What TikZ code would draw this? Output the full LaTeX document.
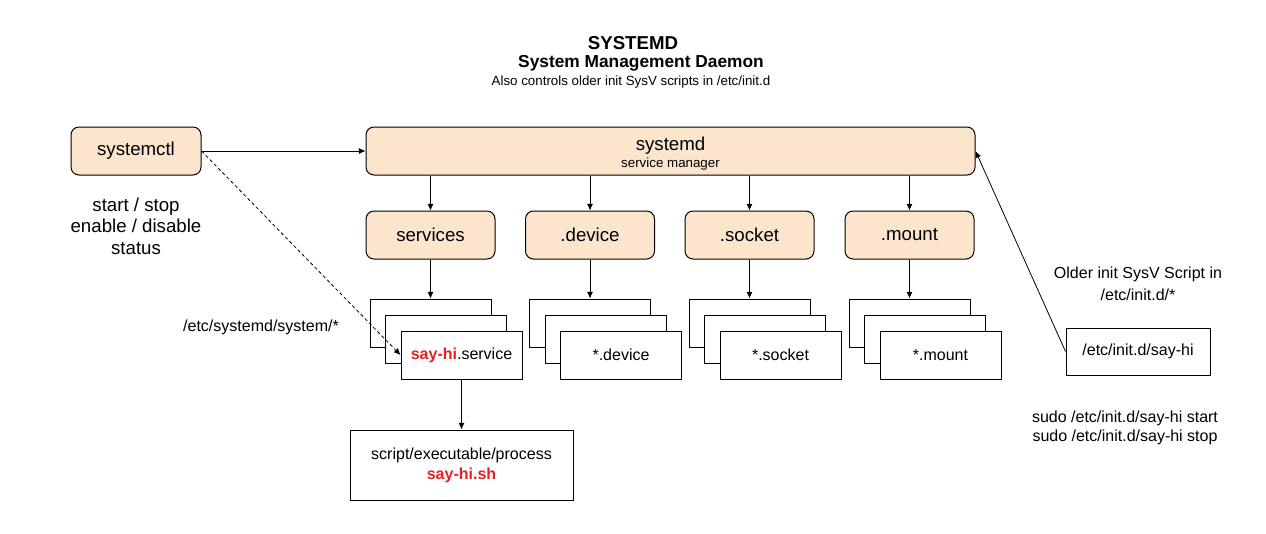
\documentclass[tikz,border=0pt]{standalone}
\usepackage{fontspec}
\setmainfont{Liberation Sans}
\usepackage{xcolor}
\usetikzlibrary{arrows.meta, positioning}

\definecolor{peach}{HTML}{FCE5CD}
\definecolor{hired}{HTML}{E52222}

\begin{document}
\begin{tikzpicture}[
  x=0.75pt, y=-0.75pt,
  every node/.style={font=\fontsize{12}{14}\selectfont, inner sep=0pt},
  unit/.style={rectangle, rounded corners=6pt, draw, line width=0.75pt,
    fill=peach, minimum height=36pt, font=\fontsize{14}{16}\selectfont},
  file/.style={rectangle, draw, line width=0.75pt, fill=white,
    minimum width=90.75pt, minimum height=36pt},
  plainbox/.style={rectangle, draw, line width=0.75pt, align=center},
  arr/.style={-{Latex[length=5pt, width=4.5pt]}, line width=0.6pt},
  darr/.style={arr, dash pattern=on 2.5pt off 2pt}
]
\useasboundingbox (0,0) rectangle (1266,533);

% heading
\node[font=\bfseries\fontsize{14}{16}\selectfont] (title) at (633,43) {SYSTEMD};
\node[font=\bfseries\fontsize{13}{15}\selectfont] (subtitle) at (641,63)
  {System Management Daemon};
\node[font=\fontsize{10}{12}\selectfont] (note) at (631,82)
  {Also controls older init SysV scripts in /etc/init.d};

% control side
\node[unit, minimum width=97.5pt] (ctl) at (136,151) {systemctl};
\node[align=center, font=\fontsize{14}{16}\selectfont] (cmds) at (136,226)
  {start / stop\\enable / disable\\status};
\node[unit, minimum width=456.75pt, align=center] (sd) at (670.5,151)
  {\rule{0pt}{13.4pt}systemd\\[-3.25pt]{\fontsize{10}{12}\selectfont service manager}};

% unit types
\node[unit, minimum width=96.75pt] (svc) at (430.5,235) {services};
\node[unit, minimum width=96.75pt] (dev) at (590,235) {.device};
\node[unit, minimum width=96.75pt] (sock) at (749.5,235) {.socket};
\node[unit, minimum width=96.75pt] (mnt) at (909.5,235) {.mount};

% unit files, stacked
\node[file, below=29.25pt of svc] (svc1) {};
\node[file] (svc2) at ([shift={(15.5,16)}]svc1) {};
\node[file] (svc3) at ([shift={(15.5,16)}]svc2)
  {\textcolor{hired}{\bfseries say-hi}.service};
\node[file, below=29.25pt of dev] (dev1) {};
\node[file] (dev2) at ([shift={(15.5,16)}]dev1) {};
\node[file] (dev3) at ([shift={(15.5,16)}]dev2) {*.device};
\node[file, below=29.25pt of sock] (sock1) {};
\node[file] (sock2) at ([shift={(15.5,16)}]sock1) {};
\node[file] (sock3) at ([shift={(15.5,16)}]sock2) {*.socket};
\node[file, below=29.25pt of mnt] (mnt1) {};
\node[file] (mnt2) at ([shift={(15.5,16)}]mnt1) {};
\node[file] (mnt3) at ([shift={(15.5,16)}]mnt2) {*.mount};

\node (etcpath) at (261,327) {/etc/systemd/system/*};

\node[plainbox, minimum width=167.25pt, minimum height=52.5pt,
  font=\fontsize{12}{15}\selectfont, below=37.5pt of svc3] (script)
  {script/executable/process\\\textcolor{hired}{\bfseries say-hi.sh}};

% sysv side
\node[align=center, font=\fontsize{12}{16.5}\selectfont] (sysv) at (1138,284)
  {Older init SysV Script in\\/etc/init.d/*};
\node[plainbox, minimum width=108pt, minimum height=35.25pt] (init)
  at (1138,351.5) {/etc/init.d/say-hi};
\node[align=center, font=\fontsize{12}{14.25}\selectfont] (sudo) at (1125,428)
  {sudo /etc/init.d/say-hi start\\sudo /etc/init.d/say-hi stop};

\draw[arr] (ctl) -- (sd);
\draw[darr] (ctl.east) -- (svc3.west);
\draw[arr] (sd.south -| svc.north) -- (svc.north);
\draw[arr] (sd.south -| dev.north) -- (dev.north);
\draw[arr] (sd.south -| sock.north) -- (sock.north);
\draw[arr] (sd.south -| mnt.north) -- (mnt.north);
\draw[arr] (svc) -- (svc1);
\draw[arr] (dev) -- (dev1);
\draw[arr] (sock) -- (sock1);
\draw[arr] (mnt) -- (mnt1);
\draw[arr] (svc3) -- (script);
\draw[arr] (init.west) -- (sd.east);

\end{tikzpicture}
\end{document}
